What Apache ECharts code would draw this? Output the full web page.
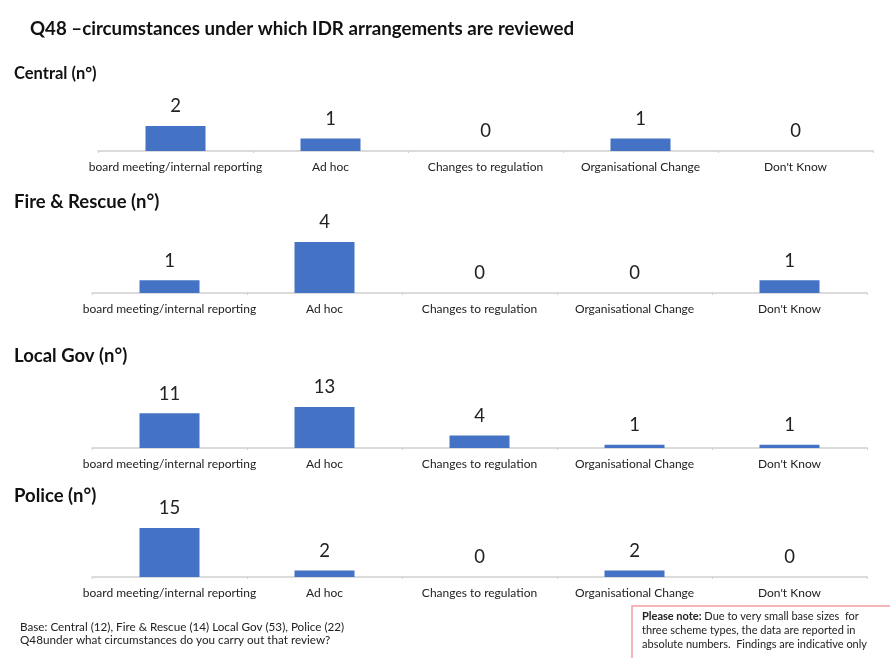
<!DOCTYPE html>
<html>
<head>
<meta charset="utf-8">
<script src="https://cdn.jsdelivr.net/npm/echarts@6/dist/echarts.min.js"></script>
<style>
html,body{margin:0;padding:0;background:#fff;}
#chart{width:890px;height:658px;}
</style>
</head>
<body>
<div id="chart"></div>
<script>
// ---- data ----
const categories = ['board meeting/internal reporting', 'Ad hoc', 'Changes to regulation', 'Organisational Change', "Don't Know"];
const panelTitles = ['Central (n°)', 'Fire & Rescue (n°)', 'Local Gov (n°)', 'Police (n°)'];
const centralValues = [2, 1, 0, 1, 0];
const fireRescueValues = [1, 4, 0, 0, 1];
const localGovValues = [11, 13, 4, 1, 1];
const policeValues = [15, 2, 0, 2, 0];
const chartTitle = 'Q48 \u2013circumstances under which IDR arrangements are reviewed';
const baseNote = 'Base: Central (12), Fire & Rescue (14) Local Gov (53), Police (22)';
const questionNote = 'Q48under what circumstances do you carry out that review?';

const seriesData = [centralValues, fireRescueValues, localGovValues, policeValues];

// ---- layout (positions only) ----
const FONT = 'Lato, "Open Sans", sans-serif';
const grids = [
  {left: 98, width: 775, top: 126, height: 25},
  {left: 92, width: 775, top: 242, height: 51},
  {left: 92, width: 775, top: 407, height: 41},
  {left: 92, width: 775, top: 528, height: 49}
];
const headingY = [65, 193, 347, 487];
const headingSize = [16.5, 18.5, 18.5, 18.5];

const option = {
  backgroundColor: '#fff',
  animation: false,
  title: [{
    text: chartTitle, left: 30, top: 19, padding: 0,
    textStyle: {fontFamily: FONT, fontSize: 18.7, fontWeight: 'bold', color: '#111'}
  }].concat(panelTitles.map((t, i) => ({
    text: t, left: 14, top: headingY[i], padding: 0,
    textStyle: {fontFamily: FONT, fontSize: headingSize[i], fontWeight: 'bold', color: '#111'}
  }))),
  grid: grids.map(g => Object.assign({containLabel: false}, g)),
  xAxis: grids.map((g, i) => ({
    type: 'category', gridIndex: i, data: categories,
    axisLine: {show: true, lineStyle: {color: '#d0d0d0', width: 1.5}},
    axisTick: {show: true, length: 2, lineStyle: {color: '#d0d0d0'}},
    axisLabel: {interval: 0, margin: 10, fontFamily: FONT, fontSize: 12, color: '#222'}
  })),
  yAxis: grids.map((g, i) => ({
    type: 'value', gridIndex: i, min: 0, max: 'dataMax', show: false,
    splitLine: {show: false}
  })),
  series: seriesData.map((d, i) => ({
    type: 'bar', xAxisIndex: i, yAxisIndex: i, data: d, barWidth: 60,
    itemStyle: {color: '#4472C4'},
    label: {show: true, position: 'top', distance: 10, fontFamily: FONT, fontSize: 18.5, color: '#222'}
  })),
  graphic: [
    {type: 'text', left: 20, top: 621, style: {text: baseNote, font: '11.7px ' + FONT, fill: '#222'}},
    {type: 'text', left: 20, top: 634, style: {text: questionNote, font: '11.7px ' + FONT, fill: '#222'}},
    {type: 'rect', shape: {x: 632, y: 606, width: 270, height: 60},
      style: {fill: '#fff', stroke: '#f0a0a0', lineWidth: 1.5}},
    {type: 'text', left: 642, top: 611, style: {
      rich: {b: {font: 'bold 11px ' + FONT, fill: '#222', lineHeight: 14}, n: {font: '11px ' + FONT, fill: '#222', lineHeight: 14}},
      text: '{b|Please note:}{n| Due to very small base sizes  for}\n{n|three scheme types, the data are reported in}\n{n|absolute numbers.  Findings are indicative only}'
    }}
  ]
};

const chart = echarts.init(document.getElementById('chart'), null, {renderer: 'canvas'});
chart.setOption(option);
</script>
</body>
</html>
